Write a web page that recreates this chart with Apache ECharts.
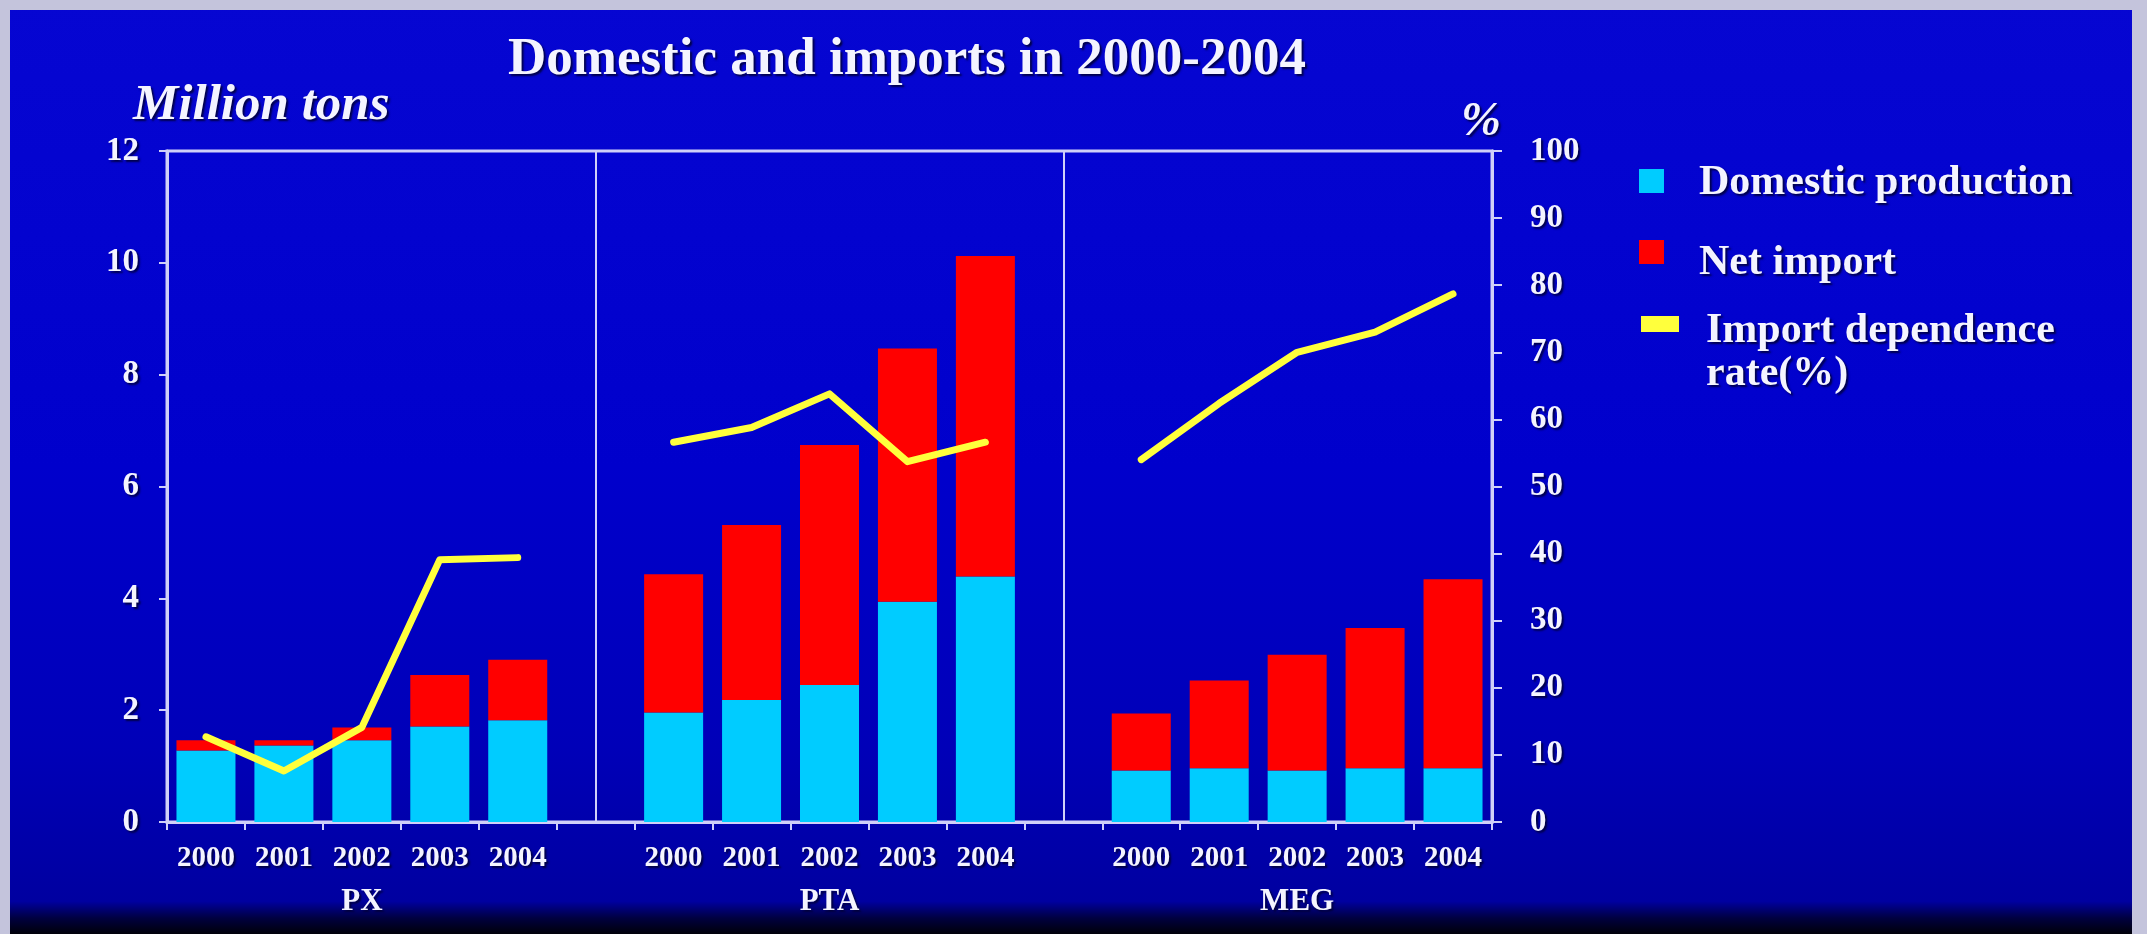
<!DOCTYPE html>
<html>
<head>
<meta charset="utf-8">
<title>Domestic and imports in 2000-2004</title>
<script src="https://cdn.jsdelivr.net/npm/echarts@6/dist/echarts.min.js"></script>
<style>
html, body { margin: 0; padding: 0; background: #c4c4dc; overflow: hidden; }
#chart {
  position: absolute; left: 0; top: 0; width: 2147px; height: 934px;
  background: linear-gradient(180deg, #0606d2 0%, #0000cc 50%, #0000b8 80%, #0000a0 96.5%, #000040 98.3%, #000008 100%);
  box-shadow: inset 10px 0 0 #c4c4dc, inset -15px 0 0 #c4c4dc, inset 0 10px 0 #c4c4dc;
}
</style>
</head>
<body>
<div id="chart"></div>
<script>
// ---- data ----
const products = ['PX', 'PTA', 'MEG'];
const years = ['2000', '2001', '2002', '2003', '2004'];

// Million tons
const pxDomestic  = [1.28, 1.37, 1.46, 1.71, 1.82];
const pxNetImport = [0.18, 0.09, 0.23, 0.92, 1.08];
const ptaDomestic  = [1.96, 2.18, 2.45, 3.94, 4.39];
const ptaNetImport = [2.47, 3.13, 4.29, 4.53, 5.73];
const megDomestic  = [0.92, 0.96, 0.92, 0.96, 0.96];
const megNetImport = [1.02, 1.57, 2.07, 2.51, 3.38];

// Import dependence rate (%)
const pxRate  = [12.7, 7.6, 14.1, 39.1, 39.4];
const ptaRate = [56.6, 58.8, 63.8, 53.7, 56.6];
const megRate = [54.0, 62.4, 70.0, 73.0, 78.7];

const leftTicks = { min: 0, max: 12, interval: 2 };
const rightTicks = { min: 0, max: 100, interval: 10 };

// ---- build categories (with a blank separator slot between products) ----
const categories = [];
products.forEach((p, i) => {
  years.forEach(y => categories.push(p + '-' + y));
  if (i < products.length - 1) categories.push('gap-' + i);
});
function withGaps(a, b, c) { return [...a, null, ...b, null, ...c]; }

const serif = 'Liberation Serif, Times New Roman, serif';
const txt = '#f4f4ff';
const axisCol = '#d0d0f8';
const shadow = { textShadowColor: 'rgba(0,0,50,0.85)', textShadowBlur: 2, textShadowOffsetX: 2, textShadowOffsetY: 2 };

const chart = echarts.init(document.getElementById('chart'), null, { renderer: 'canvas' });

const legendText = Object.assign({ color: txt, fontFamily: serif, fontWeight: 'bold', fontSize: 42, lineHeight: 43 }, shadow);

const option = {
  backgroundColor: 'transparent',
  animation: false,
  title: [
    { text: 'Domestic and imports in 2000-2004', left: 907, top: 34, padding: 0, textAlign: 'center',
      textStyle: Object.assign({ color: txt, fontFamily: serif, fontWeight: 'bold', fontSize: 53, lineHeight: 53 }, shadow) },
    { text: 'Million tons', left: 133, top: 81, padding: 0,
      textStyle: Object.assign({ color: txt, fontFamily: serif, fontWeight: 'bold', fontStyle: 'italic', fontSize: 51, lineHeight: 50 }, shadow) },
    { text: '%', left: 1481, top: 99, padding: 0, textAlign: 'center',
      textStyle: Object.assign({ color: txt, fontFamily: serif, fontWeight: 'bold', fontStyle: 'italic', fontSize: 48, lineHeight: 48 }, shadow) }
  ],
  legend: [
    { data: ['Domestic production'], orient: 'vertical', left: 1639, top: 162, padding: 0,
      itemWidth: 25, itemHeight: 29, icon: 'path://M0,0H25V24H0Z M0,29H0.01V29.01H0Z', selectedMode: false,
      textStyle: Object.assign({}, legendText, { padding: [0, 0, 0, 30] }) },
    { data: ['Net import'], orient: 'vertical', left: 1639, top: 240, padding: 0,
      itemWidth: 25, itemHeight: 46, icon: 'path://M0,0H25V24H0Z M0,46H0.01V46.01H0Z', selectedMode: false,
      textStyle: Object.assign({}, legendText, { padding: [0, 0, 0, 30] }) },
    { data: ['Import dependence rate(%)'], orient: 'vertical', left: 1641, top: 310, padding: 0,
      itemWidth: 38, itemHeight: 86, icon: 'path://M0,6H38V22H0Z M0,0H0.01V0.01H0Z M0,86H0.01V86.01H0Z', selectedMode: false,
      formatter: () => 'Import dependence\nrate(%)',
      textStyle: Object.assign({}, legendText, { padding: [0, 0, 0, 22] }) }
  ],
  grid: {
    left: 167, top: 151, right: 655, bottom: 112,
    containLabel: false, outerBoundsMode: 'none',
    show: true, borderColor: axisCol, borderWidth: 3, backgroundColor: 'transparent'
  },
  xAxis: [
    {
      type: 'category', data: categories, position: 'bottom', boundaryGap: true,
      axisLine: { show: true, lineStyle: { color: axisCol, width: 3 } },
      axisTick: { show: true, interval: 0, length: 8, lineStyle: { color: axisCol, width: 2 } },
      axisLabel: Object.assign({
        interval: 0, margin: 23, color: txt, fontFamily: serif, fontWeight: 'bold', fontSize: 29, lineHeight: 28,
        formatter: v => v.startsWith('gap') ? '' : v.split('-')[1]
      }, shadow),
      splitLine: { show: false }
    },
    {
      type: 'category', data: categories, position: 'bottom', boundaryGap: true,
      axisLine: { show: false }, axisTick: { show: false }, splitLine: { show: false },
      axisLabel: Object.assign({
        interval: 0, margin: 65, color: txt, fontFamily: serif, fontWeight: 'bold', fontSize: 31, lineHeight: 30,
        formatter: v => v.endsWith('-' + years[2]) ? v.split('-')[0] : ''
      }, shadow)
    }
  ],
  yAxis: [
    {
      type: 'value', position: 'left', min: leftTicks.min, max: leftTicks.max, interval: leftTicks.interval,
      axisLine: { show: true, lineStyle: { color: axisCol, width: 3 } },
      axisTick: { show: true, length: 8, lineStyle: { color: axisCol, width: 2 } },
      splitLine: { show: false },
      axisLabel: Object.assign({ margin: 28, color: txt, fontFamily: serif, fontWeight: 'bold', fontSize: 33 }, shadow)
    },
    {
      type: 'value', position: 'right', min: rightTicks.min, max: rightTicks.max, interval: rightTicks.interval,
      axisLine: { show: true, lineStyle: { color: axisCol, width: 3 } },
      axisTick: { show: true, length: 10, lineStyle: { color: axisCol, width: 2 } },
      splitLine: { show: false },
      axisLabel: Object.assign({ margin: 38, color: txt, fontFamily: serif, fontWeight: 'bold', fontSize: 33 }, shadow)
    }
  ],
  series: [
    {
      name: 'Domestic production', type: 'bar', stack: 'total', barWidth: 59,
      itemStyle: { color: '#00ccff' },
      data: withGaps(pxDomestic, ptaDomestic, megDomestic),
      markLine: {
        silent: true, symbol: ['none', 'none'], label: { show: false }, animation: false,
        lineStyle: { color: axisCol, width: 2, type: 'solid' },
        emphasis: { disabled: true },
        data: [{ xAxis: 'gap-0' }, { xAxis: 'gap-1' }]
      }
    },
    {
      name: 'Net import', type: 'bar', stack: 'total', barWidth: 59,
      itemStyle: { color: '#ff0000' },
      data: withGaps(pxNetImport, ptaNetImport, megNetImport)
    },
    {
      name: 'Import dependence rate(%)', type: 'line', yAxisIndex: 1, z: 5,
      color: '#ffff3c', itemStyle: { color: '#ffff3c' },
      symbol: 'none', showSymbol: false, connectNulls: false,
      lineStyle: { color: '#ffff3c', width: 7, cap: 'round', join: 'round' },
      data: withGaps(pxRate, ptaRate, megRate)
    }
  ]
};

chart.setOption(option);
</script>
</body>
</html>
